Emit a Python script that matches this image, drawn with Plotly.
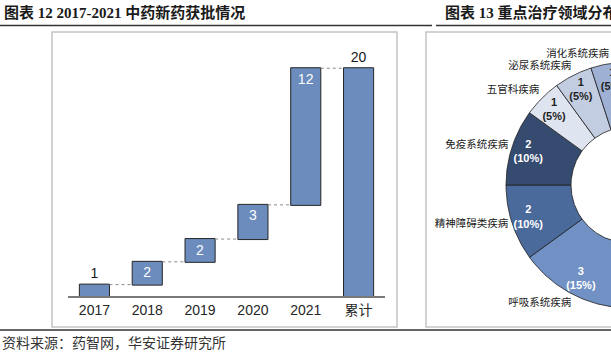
import math
import plotly.graph_objects as go

# ---------------- data: left chart (waterfall) ----------------
years = ["2017", "2018", "2019", "2020", "2021", "累计"]
approvals = [1, 2, 2, 3, 12, 20]
measures = ["relative", "relative", "relative", "relative", "relative", "total"]
label_positions = ["outside", "inside", "inside", "inside", "inside", "outside"]

# ---------------- data: right chart (visible part of donut) ----------------
areas = ["呼吸系统疾病", "精神障碍类疾病", "免疫系统疾病", "五官科疾病", "泌尿系统疾病", "消化系统疾病"]
area_counts = [3, 2, 2, 1, 1, 1]
area_total = 20
area_colors = ["#7191c5", "#4b6a9c", "#364b70", "#dfe5f0", "#c3cde2", "#9eb1d4"]
area_text_colors = ["white", "white", "white", "#1f1f1f", "#1f1f1f", "#1f1f1f"]

W, H = 611, 359
def px_x(x): return x / W
def px_y(y): return 1 - y / H

CJK = "Liberation Sans, Arial, Noto Sans CJK SC"
SERIF = "Liberation Serif, Noto Sans CJK SC"
BAR = "#6b8cbc"

fig = go.Figure()

fig.add_trace(go.Waterfall(
    x=years, y=approvals, measure=measures,
    text=[str(v) for v in approvals], textposition=label_positions,
    insidetextfont=dict(color="white", size=14, family=CJK),
    outsidetextfont=dict(color="#1a1a1a", size=14, family=CJK),
    increasing=dict(marker=dict(color=BAR, line=dict(color="#262626", width=1))),
    totals=dict(marker=dict(color=BAR, line=dict(color="#262626", width=1))),
    connector=dict(mode="between", line=dict(color="#8a8a8a", width=1, dash="dot")),
    cliponaxis=False, hoverinfo="x+y", showlegend=False,
))

# ---------------- donut wedges ----------------
R_OUT, R_IN, R_LAB, R_CAT = 123, 58, 106, 127
start = 270.0  # 6 o'clock, going clockwise
ang = start
for name, cnt, col, tcol in zip(areas, area_counts, area_colors, area_text_colors):
    sweep = 360.0 * cnt / area_total
    a0, a1 = ang, ang - sweep
    n = 60
    outer = [a0 + (a1 - a0) * i / n for i in range(n + 1)]
    xs = [R_OUT * math.cos(math.radians(a)) for a in outer] + \
         [R_IN * math.cos(math.radians(a)) for a in reversed(outer)]
    ys = [R_OUT * math.sin(math.radians(a)) for a in outer] + \
         [R_IN * math.sin(math.radians(a)) for a in reversed(outer)]
    xs.append(xs[0]); ys.append(ys[0])
    fig.add_trace(go.Scatter(x=xs, y=ys, xaxis="x2", yaxis="y2", mode="lines",
                             fill="toself", fillcolor=col,
                             line=dict(color="#1f1f1f", width=0.8),
                             hoverinfo="text", text=name, showlegend=False))
    mid = math.radians((a0 + a1) / 2)
    pct = round(100 * cnt / area_total)
    fig.add_trace(go.Scatter(
        x=[R_LAB * math.cos(mid)], y=[R_LAB * math.sin(mid)], xaxis="x2", yaxis="y2",
        mode="text", text=[f"<b>{cnt}<br>({pct}%)</b>"],
        textfont=dict(color=tcol, size=11, family=CJK),
        hoverinfo="skip", showlegend=False, cliponaxis=True))
    s = math.sin(mid)
    vpos = "top" if s > 0.5 else ("bottom" if s < -0.5 else "middle")
    fig.add_trace(go.Scatter(
        x=[R_CAT * math.cos(mid)], y=[R_CAT * math.sin(mid)], xaxis="x2", yaxis="y2",
        mode="text", text=[name], textposition=f"{vpos} left",
        textfont=dict(color="#1a1a1a", size=10.5, family=SERIF),
        hoverinfo="skip", showlegend=False, cliponaxis=True))
    ang = a1

fig.update_layout(
    width=W, height=H, margin=dict(l=0, r=0, t=0, b=0),
    paper_bgcolor="white", plot_bgcolor="rgba(0,0,0,0)",
    waterfallgap=0.43,
    xaxis=dict(domain=[px_x(68), px_x(385)], type="category",
               showline=True, linecolor="#7a7a7a", linewidth=1.5,
               showgrid=False, zeroline=False, ticks="",
               tickfont=dict(size=14, color="#262626", family=CJK)),
    yaxis=dict(domain=[px_y(296), px_y(50)], range=[0, 21.6],
               showticklabels=False, showgrid=False, zeroline=False),
    xaxis2=dict(domain=[px_x(427), 1], range=[427 - 629, 611 - 629],
                visible=False, anchor="y2"),
    yaxis2=dict(domain=[px_y(326), px_y(33)], range=[185 - 326, 185 - 33],
                visible=False, anchor="x2"),
    shapes=[
        dict(type="rect", xref="paper", yref="paper",
             x0=px_x(52), x1=px_x(397), y0=px_y(327), y1=px_y(32),
             line=dict(color="#c4c4c4", width=1.5)),
        dict(type="rect", xref="paper", yref="paper",
             x0=px_x(426), x1=px_x(630), y0=px_y(327), y1=px_y(32),
             line=dict(color="#c4c4c4", width=1.5)),
        dict(type="line", xref="paper", yref="paper",
             x0=0, x1=px_x(432), y0=px_y(25.5), y1=px_y(25.5),
             line=dict(color="#333333", width=1.5)),
        dict(type="line", xref="paper", yref="paper",
             x0=px_x(436), x1=1, y0=px_y(25.5), y1=px_y(25.5),
             line=dict(color="#333333", width=1.5)),
        dict(type="line", xref="paper", yref="paper",
             x0=0, x1=1, y0=px_y(330), y1=px_y(330),
             line=dict(color="#333333", width=1.5)),
    ],
    annotations=[
        dict(text="<b>图表 12 2017-2021 中药新药获批情况</b>", xref="paper", yref="paper",
             x=px_x(2), y=px_y(12), xanchor="left", yanchor="middle", showarrow=False,
             font=dict(size=15, color="#1a1a1a", family=SERIF)),
        dict(text="<b>图表 13 重点治疗领域分布</b>", xref="paper", yref="paper",
             x=px_x(443), y=px_y(12), xanchor="left", yanchor="middle", showarrow=False,
             font=dict(size=15, color="#1a1a1a", family=SERIF)),
        dict(text="资料来源：药智网，华安证券研究所", xref="paper", yref="paper",
             x=px_x(0), y=px_y(343), xanchor="left", yanchor="middle", showarrow=False,
             font=dict(size=14, color="#333333", family=SERIF)),
    ],
)

fig.write_html("out.html", config={"displayModeBar": False},
               post_script="document.body.style.margin='0';document.body.style.overflow='hidden';")
